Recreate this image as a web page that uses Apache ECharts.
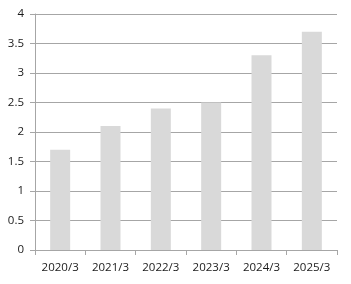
<!DOCTYPE html>
<html><head><meta charset="utf-8">
<script src="https://cdn.jsdelivr.net/npm/echarts@6/dist/echarts.min.js"></script>
<style>html,body{margin:0;padding:0;background:#fff}#c{width:351px;height:284px}</style>
</head><body><div id="c"></div>
<script>
const categories = ['2020/3','2021/3','2022/3','2023/3','2024/3','2025/3'];
const values = [1.7, 2.1, 2.4, 2.5, 3.3, 3.7];
const yTicks = [0, 0.5, 1, 1.5, 2, 2.5, 3, 3.5, 4];

const chart = echarts.init(document.getElementById('c'), null, {renderer:'canvas'});
const lineColor = '#a6a6a6';
const textStyle = {color:'#1a1a1a', fontSize:11.5, fontFamily:'Open Sans'};
chart.setOption({
  animation:false,
  grid:{left:35, right:14, top:14, bottom:34, containLabel:false},
  xAxis:{type:'category', data:categories,
    axisLine:{lineStyle:{color:lineColor}},
    axisTick:{show:true, length:5, lineStyle:{color:lineColor}},
    axisLabel:Object.assign({margin:12}, textStyle)},
  yAxis:{type:'value', min:0, max:4, interval:0.5,
    axisLine:{show:true, lineStyle:{color:lineColor}},
    axisTick:{show:true, length:5, lineStyle:{color:lineColor}},
    splitLine:{lineStyle:{color:lineColor}},
    axisLabel:Object.assign({margin:11, formatter:v=>String(v)}, textStyle)},
  series:[{type:'bar', data:values, barWidth:20, itemStyle:{color:'#d9d9d9'}}]
});
</script></body></html>
